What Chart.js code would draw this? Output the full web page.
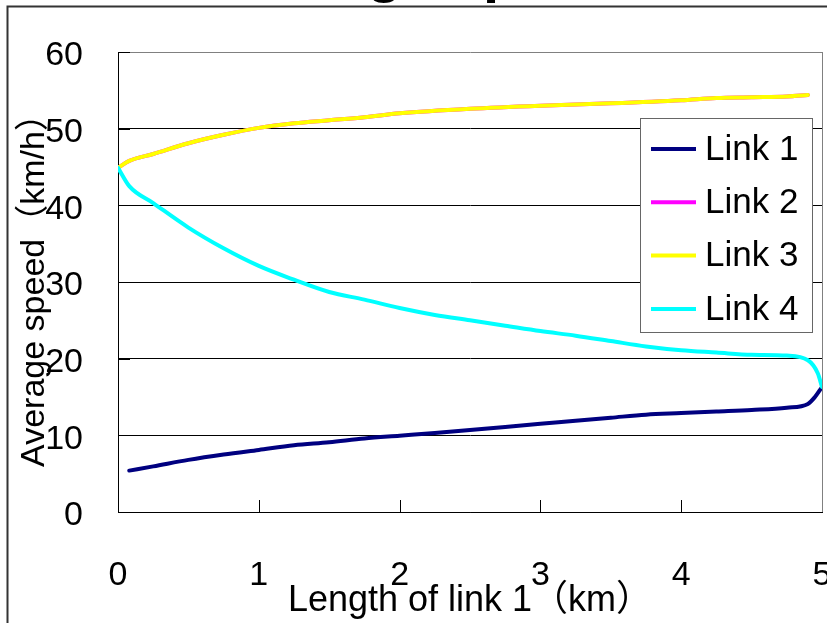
<!DOCTYPE html>
<html>
<head>
<meta charset="utf-8">
<script src="https://cdn.jsdelivr.net/npm/chart.js@4/dist/chart.umd.min.js"></script>
<style>
  html, body { margin: 0; padding: 0; background: #fff; }
  #wrap { width: 827px; height: 623px; position: relative; }
</style>
</head>
<body>
<div id="wrap"><canvas id="c" width="827" height="623"></canvas></div>
<script>
// ---- chart text ----
const chartTitle = 'Average speed';
const xAxisTitle = 'Length of link 1（km）';
const yAxisTitle = 'Average speed（km/h）';
const seriesNames = ['Link 1', 'Link 2', 'Link 3', 'Link 4'];
const xTickLabels = ['0', '1', '2', '3', '4', '5'];
const yTickLabels = ['0', '10', '20', '30', '40', '50', '60'];

// ---- series values: length of link 1 (km) and average speed (km/h) ----
const lengthLink1 = [0.08, 0.25, 0.5, 0.75, 1, 1.25, 1.5, 1.75, 2, 2.25, 2.5, 2.75, 3, 3.25, 3.5, 3.75, 4, 4.25, 4.5, 4.75, 4.9, 4.95, 5];
const speedLink1  = [5.4, 5.95, 6.8, 7.5, 8.1, 8.7, 9.1, 9.6, 9.95, 10.3, 10.7, 11.1, 11.5, 11.9, 12.3, 12.7, 12.9, 13.1, 13.3, 13.6, 14.1, 15.0, 16.3];

const lengthLinks23 = [0, 0.08, 0.25, 0.5, 0.75, 1, 1.25, 1.5, 1.75, 2, 2.5, 3, 3.5, 4, 4.25, 4.5, 4.75, 4.9];
const speedLink2    = [44.9, 45.8, 46.7, 48.1, 49.2, 50.1, 50.7, 51.1, 51.5, 52.0, 52.6, 53.0, 53.3, 53.7, 54.0, 54.1, 54.2, 54.4];
const speedLink3    = [44.9, 45.8, 46.7, 48.1, 49.2, 50.1, 50.7, 51.1, 51.5, 52.0, 52.6, 53.0, 53.3, 53.7, 54.0, 54.1, 54.2, 54.4];

const lengthLink4 = [0, 0.08, 0.25, 0.5, 0.75, 1, 1.25, 1.5, 1.75, 2, 2.25, 2.5, 2.75, 3, 3.25, 3.5, 3.75, 4, 4.25, 4.5, 4.75, 4.9, 4.97, 5];
const speedLink4  = [44.9, 42.5, 40.3, 37.1, 34.4, 32.1, 30.3, 28.7, 27.7, 26.6, 25.7, 25.0, 24.3, 23.6, 23.0, 22.3, 21.6, 21.1, 20.8, 20.5, 20.4, 19.8, 18.1, 16.3];

const seriesColors = ['#000080', '#FF00FF', '#FFFF00', '#00FFFF'];

function toPoints(xs, ys) {
  return xs.map((x, i) => ({ x: x, y: ys[i] }));
}

const FONT = '"Liberation Sans", Arial, "Noto Sans CJK JP", sans-serif';

// Frame, cut-off title, inside tick marks, right border and the boxed legend
const decorations = {
  id: 'decorations',
  beforeDraw(chart) {
    const ctx = chart.ctx;
    ctx.save();
    ctx.fillStyle = '#fff';
    ctx.fillRect(0, 0, chart.width, chart.height);
    // outer chart frame (left and top edges)
    ctx.strokeStyle = '#333';
    ctx.lineWidth = 2;
    ctx.beginPath();
    ctx.moveTo(7.5, chart.height + 2);
    ctx.lineTo(7.5, 6.5);
    ctx.lineTo(chart.width + 2, 6.5);
    ctx.stroke();
    // chart title, mostly above the visible page
    ctx.fillStyle = '#000';
    ctx.font = 'bold 58px ' + FONT;
    ctx.textAlign = 'center';
    ctx.textBaseline = 'alphabetic';
    ctx.fillText(chartTitle, 413, -9);
    ctx.restore();
  },
  beforeDatasetsDraw(chart) {
    const ctx = chart.ctx;
    const a = chart.chartArea;
    const xs = chart.scales.x;
    const ys = chart.scales.y;
    ctx.save();
    // right edge of the plot area
    ctx.strokeStyle = '#808080';
    ctx.lineWidth = 1;
    ctx.beginPath();
    ctx.moveTo(Math.round(a.right) + 0.5, a.top);
    ctx.lineTo(Math.round(a.right) + 0.5, a.bottom);
    ctx.stroke();
    // tick marks pointing into the plot
    ctx.strokeStyle = '#000';
    ctx.beginPath();
    xs.ticks.forEach(t => {
      if (t.value <= 0 || t.value >= 5) return;
      const px = Math.round(xs.getPixelForValue(t.value)) + 0.5;
      ctx.moveTo(px, a.bottom);
      ctx.lineTo(px, a.bottom - 12);
    });
    ys.ticks.forEach(t => {
      const py = Math.round(ys.getPixelForValue(t.value)) + 0.5;
      ctx.moveTo(a.left, py);
      ctx.lineTo(a.left + 12, py);
    });
    ctx.stroke();
    ctx.restore();
  },
  afterDraw(chart) {
    const ctx = chart.ctx;
    const box = { x: 640.5, y: 118.5, w: 172, h: 214 };
    ctx.save();
    ctx.fillStyle = '#fff';
    ctx.fillRect(box.x, box.y, box.w, box.h);
    ctx.strokeStyle = '#666';
    ctx.lineWidth = 1;
    ctx.strokeRect(box.x, box.y, box.w, box.h);
    ctx.font = '35px ' + FONT;
    ctx.textAlign = 'left';
    ctx.textBaseline = 'middle';
    chart.data.datasets.forEach((ds, i) => {
      const cy = 149 + i * 53.3;
      ctx.strokeStyle = ds.borderColor;
      ctx.lineWidth = 4;
      ctx.beginPath();
      ctx.moveTo(651, cy);
      ctx.lineTo(696, cy);
      ctx.stroke();
      ctx.fillStyle = '#000';
      ctx.fillText(ds.label, 705, cy + 1);
    });
    ctx.restore();
  }
};

const lineStyle = {
  showLine: true,
  pointRadius: 0,
  pointHoverRadius: 0,
  borderWidth: 4,
  fill: false,
  cubicInterpolationMode: 'monotone',
  borderCapStyle: 'round',
  borderJoinStyle: 'round'
};

new Chart(document.getElementById('c'), {
  type: 'scatter',
  data: {
    datasets: [
      Object.assign({ label: seriesNames[0], data: toPoints(lengthLink1, speedLink1), borderColor: seriesColors[0], backgroundColor: seriesColors[0], order: 4 }, lineStyle),
      Object.assign({ label: seriesNames[1], data: toPoints(lengthLinks23, speedLink2), borderColor: seriesColors[1], backgroundColor: seriesColors[1], order: 3 }, lineStyle),
      Object.assign({ label: seriesNames[2], data: toPoints(lengthLinks23, speedLink3), borderColor: seriesColors[2], backgroundColor: seriesColors[2], order: 2 }, lineStyle),
      Object.assign({ label: seriesNames[3], data: toPoints(lengthLink4, speedLink4), borderColor: seriesColors[3], backgroundColor: seriesColors[3], order: 1 }, lineStyle)
    ]
  },
  options: {
    responsive: false,
    animation: false,
    devicePixelRatio: 1,
    layout: { padding: { top: 52, right: 5, left: 0, bottom: 0 } },
    plugins: {
      legend: { display: false },
      tooltip: { enabled: false },
      title: { display: false }
    },
    scales: {
      x: {
        type: 'linear',
        min: 0,
        max: 5,
        ticks: {
          stepSize: 1,
          padding: 35,
          color: '#000',
          font: { family: FONT, size: 34 },
          maxRotation: 0,
          autoSkip: false,
          callback: (v) => xTickLabels[Math.round(v)]
        },
        grid: { display: false },
        border: { display: true, color: '#000', width: 1 },
        title: {
          display: true,
          text: xAxisTitle,
          color: '#000',
          font: { family: FONT, size: 36 },
          padding: { top: 0, bottom: 0 }
        },
        afterFit(scale) {
          scale.height = 111;
          scale.paddingLeft = 0;
          scale.paddingRight = 0;
        }
      },
      y: {
        type: 'linear',
        min: 0,
        max: 60,
        ticks: {
          stepSize: 10,
          padding: 35,
          labelOffset: 4,
          color: '#000',
          font: { family: FONT, size: 34 },
          callback: (v) => yTickLabels[Math.round(v / 10)]
        },
        grid: {
          drawTicks: false,
          lineWidth: 1,
          color: (c) => (c.tick && c.tick.value === 60 ? '#808080' : '#000')
        },
        border: { display: true, color: '#000', width: 1 },
        title: {
          display: true,
          text: yAxisTitle,
          color: '#000',
          font: { family: FONT, size: 34 },
          padding: { top: 14, bottom: 0 }
        },
        afterFit(scale) {
          scale.width = 118;
          scale.paddingTop = 0;
          scale.paddingBottom = 0;
        }
      }
    }
  },
  plugins: [decorations]
});
</script>
</body>
</html>
